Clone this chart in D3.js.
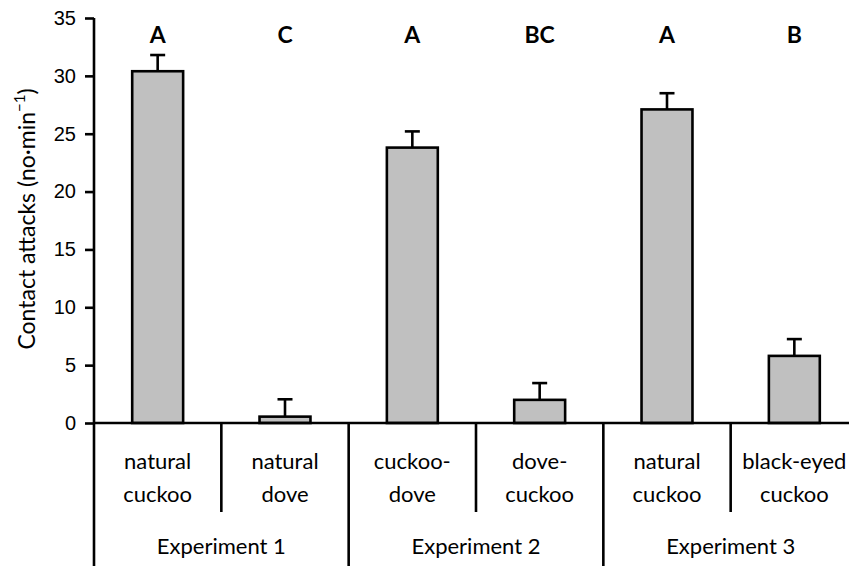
<!DOCTYPE html>
<html>
<head>
<meta charset="utf-8">
<script src="https://cdn.jsdelivr.net/npm/d3@7"></script>
<style>
  body { margin: 0; background: #fff; }
  svg { display: block; font-family: Lato, "Open Sans", sans-serif; }
</style>
</head>
<body>
<svg id="chart" width="849" height="566"></svg>
<script>
// chart values
const categories = [
  ['natural', 'cuckoo'],
  ['natural', 'dove'],
  ['cuckoo-', 'dove'],
  ['dove-', 'cuckoo'],
  ['natural', 'cuckoo'],
  ['black-eyed', 'cuckoo']
];
const means = [30.4, 0.55, 23.8, 2.0, 27.1, 5.8];
const errors = [1.4, 1.5, 1.4, 1.45, 1.4, 1.45];
const letters = ['A', 'C', 'A', 'BC', 'A', 'B'];
const experiments = ['Experiment 1', 'Experiment 2', 'Experiment 3'];
const yTicks = [0, 5, 10, 15, 20, 25, 30, 35];

const svg = d3.select('#chart');
const mLeft = 94, mRight = 858, mTop = 18, zero = 423, mBottom = 566;
const idx = categories.map((d, i) => i);

const y = d3.scaleLinear().domain([0, 35]).range([zero, mTop]);
const cell = d3.scaleBand().domain(idx).range([mLeft, mRight]);
const x = d3.scaleBand().domain(idx).range([mLeft, mRight]).paddingInner(0.6).paddingOuter(0.3);
const expX = d3.scaleBand().domain(experiments).range([mLeft, mRight]);

const stroke = 2.6;

// y axis
const yAxis = svg.append('g')
  .attr('transform', 'translate(' + mLeft + ',0)')
  .call(d3.axisLeft(y).tickValues(yTicks).tickSize(9).tickPadding(9));
yAxis.select('.domain').remove();
yAxis.selectAll('.tick line').attr('stroke', '#000').attr('stroke-width', stroke);
yAxis.selectAll('.tick text').attr('font-size', 20).attr('fill', '#000');

svg.append('line')
  .attr('x1', mLeft).attr('x2', mLeft)
  .attr('y1', y(35)).attr('y2', mBottom)
  .attr('stroke', '#000').attr('stroke-width', stroke);

// bars
svg.selectAll('rect.bar')
  .data(means)
  .enter()
  .append('rect')
  .attr('class', 'bar')
  .attr('x', (d, i) => x(i))
  .attr('y', (d) => y(d))
  .attr('width', x.bandwidth())
  .attr('height', (d) => zero - y(d))
  .attr('fill', '#c0c0c0')
  .attr('stroke', '#000')
  .attr('stroke-width', stroke);

// error bars (upper only)
const err = svg.selectAll('g.err')
  .data(means)
  .enter()
  .append('g')
  .attr('class', 'err')
  .attr('transform', (d, i) => 'translate(' + (x(i) + x.bandwidth() / 2) + ',0)');
err.append('line')
  .attr('y1', (d) => y(d))
  .attr('y2', (d, i) => y(d + errors[i]))
  .attr('stroke', '#000').attr('stroke-width', stroke);
err.append('line')
  .attr('x1', -7.5).attr('x2', 7.5)
  .attr('y1', (d, i) => y(d + errors[i]))
  .attr('y2', (d, i) => y(d + errors[i]))
  .attr('stroke', '#000').attr('stroke-width', stroke);

// significance letters
svg.selectAll('text.letter')
  .data(letters)
  .enter()
  .append('text')
  .attr('class', 'letter')
  .attr('x', (d, i) => x(i) + x.bandwidth() / 2)
  .attr('y', 43)
  .attr('text-anchor', 'middle')
  .attr('font-size', 23)
  .attr('font-weight', 'bold')
  .text((d) => d);

// x axis baseline
svg.append('line')
  .attr('x1', mLeft).attr('x2', mRight)
  .attr('y1', zero).attr('y2', zero)
  .attr('stroke', '#000').attr('stroke-width', stroke);

// separators: short ones between categories, long ones between experiments
idx.slice(1).forEach((i) => {
  const major = i % 2 === 0;
  svg.append('line')
    .attr('x1', cell(i)).attr('x2', cell(i))
    .attr('y1', zero).attr('y2', major ? mBottom : 512)
    .attr('stroke', '#000').attr('stroke-width', stroke);
});

// category labels
const cat = svg.selectAll('text.cat')
  .data(categories)
  .enter()
  .append('text')
  .attr('class', 'cat')
  .attr('text-anchor', 'middle')
  .attr('font-size', 22);
cat.selectAll('tspan')
  .data((d, i) => d.map((t) => ({ t: t, i: i })))
  .enter()
  .append('tspan')
  .attr('x', (d) => cell(d.i) + cell.bandwidth() / 2)
  .attr('y', (d, j) => 469 + j * 32.5)
  .text((d) => d.t);

// experiment labels
svg.selectAll('text.exp')
  .data(experiments)
  .enter()
  .append('text')
  .attr('class', 'exp')
  .attr('x', (d) => expX(d) + expX.bandwidth() / 2)
  .attr('y', 554)
  .attr('text-anchor', 'middle')
  .attr('font-size', 22)
  .text((d) => d);

// y title
const title = svg.append('text')
  .attr('transform', 'translate(35,219) rotate(-90)')
  .attr('text-anchor', 'middle')
  .attr('font-size', 23);
title.append('tspan').text('Contact attacks (no·min');
title.append('tspan').attr('font-size', 15).attr('dy', -10).text('−1');
title.append('tspan').attr('dy', 10).text(')');
</script>
</body>
</html>
